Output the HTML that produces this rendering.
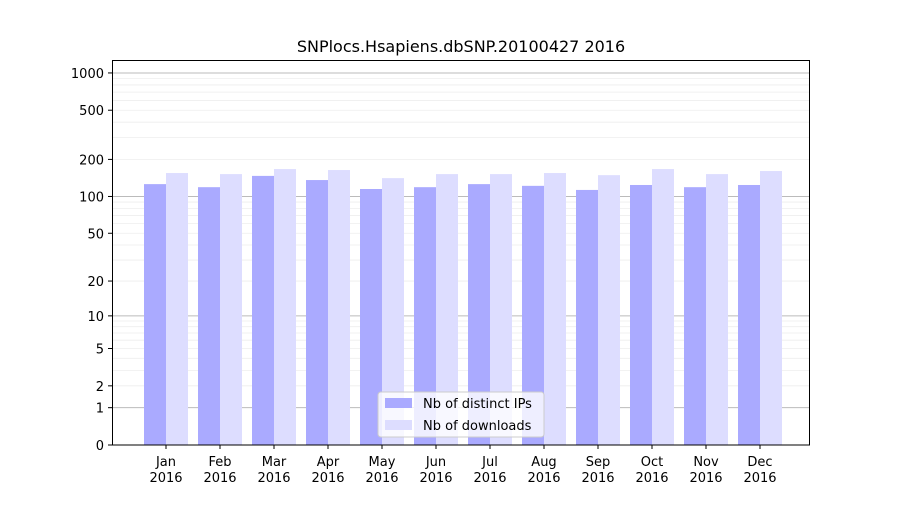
<!DOCTYPE html>
<html><head><meta charset="utf-8"><style>body{margin:0;background:#fff}</style></head><body>
<svg width="900" height="500" xmlns="http://www.w3.org/2000/svg" font-family="'DejaVu Sans', sans-serif">
<rect width="900" height="500" fill="#fff"/>
<g id="grid"></g>
<g id="bars"></g>
<rect x="112.5" y="60.5" width="697" height="384.5" fill="none" stroke="#000" stroke-width="1"/>
<text x="461" y="52" font-size="16" text-anchor="middle">SNPlocs.Hsapiens.dbSNP.20100427 2016</text>
<g id="ticks" font-size="13"></g>
<g>
<rect x="378" y="392" width="166" height="45" rx="3" fill="#fff" fill-opacity="0.8" stroke="#ccc"/>
<rect x="385" y="398" width="27" height="10" fill="#aaaaff"/>
<rect x="385" y="420" width="27" height="10" fill="#ddddff"/>
<text x="423" y="408" font-size="13">Nb of distinct IPs</text>
<text x="423" y="430" font-size="13">Nb of downloads</text>
</g>
<script>
var ns="http://www.w3.org/2000/svg";
function Y(v){return 445-124*Math.log10(1+v);}
function el(p,t,a,txt){var e=document.createElementNS(ns,t);for(var k in a)e.setAttribute(k,a[k]);if(txt)e.textContent=txt;document.getElementById(p).appendChild(e);}
[1,10,100,1000].forEach(function(d){for(var m=1;m<10;m++){var v=d*m;if(v>1300)break;var y=Y(v);el("grid","line",{x1:112,x2:810,y1:y,y2:y,stroke:m==1?"#bbb":"#eee","stroke-width":m==1?1:0.8});}});
var ip=[126,119,147,136,115,119,126,122,113,124,119,124];
var dl=[155,152,167,164,141,152,152,155,149,167,152,161];
var mo=["Jan","Feb","Mar","Apr","May","Jun","Jul","Aug","Sep","Oct","Nov","Dec"];
for(var i=0;i<12;i++){var c=166+54*i;
el("bars","rect",{x:c-22,y:Y(ip[i]),width:22,height:445-Y(ip[i]),fill:"#aaaaff"});
el("bars","rect",{x:c,y:Y(dl[i]),width:22,height:445-Y(dl[i]),fill:"#ddddff"});
el("ticks","line",{x1:c,x2:c,y1:445,y2:449,stroke:"#000"});
el("ticks","text",{x:c,y:466,"text-anchor":"middle"},mo[i]);
el("ticks","text",{x:c,y:482,"text-anchor":"middle"},"2016");}
[0,1,2,5,10,20,50,100,200,500,1000].forEach(function(v){var y=Y(v);
el("ticks","line",{x1:108,x2:112,y1:y,y2:y,stroke:"#000"});
el("ticks","text",{x:104,y:y+5,"text-anchor":"end"},String(v));});
</script>
</svg>
</body></html>
